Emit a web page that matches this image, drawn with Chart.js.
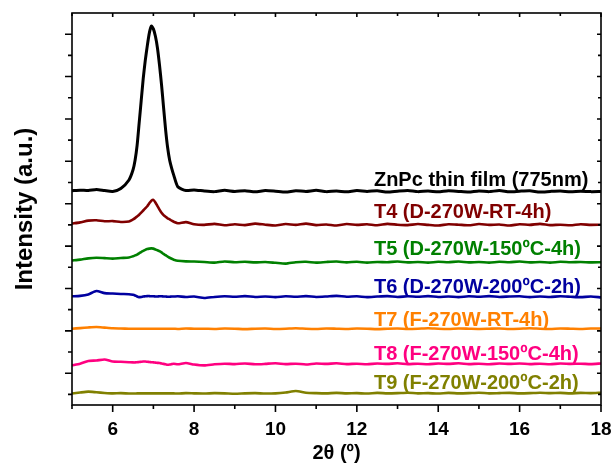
<!DOCTYPE html>
<html>
<head>
<meta charset="utf-8">
<script src="https://cdn.jsdelivr.net/npm/chart.js@4.4.0/dist/chart.umd.min.js"></script>
<style>
  html, body { margin: 0; padding: 0; background: #fff; }
  #wrap { width: 614px; height: 466px; }
</style>
</head>
<body>
<div id="wrap"><canvas id="grafico"></canvas></div>
<script>
// 2theta (graus)
var xs = [5.0, 5.2, 5.4, 5.6, 5.8, 6.0, 6.2, 6.4,
  6.5, 6.55, 6.6, 6.65, 6.7, 6.75, 6.8, 6.85, 6.9, 6.95, 7.0, 7.05, 7.1, 7.15, 7.2, 7.25, 7.3, 7.35, 7.4, 7.45, 7.5,
  7.6, 7.8, 8.0,
  8.25, 8.5, 8.75, 9.0, 9.25, 9.5, 9.75, 10.0, 10.25, 10.5, 10.75, 11.0, 11.25, 11.5, 11.75, 12.0, 12.25, 12.5, 12.75, 13.0,
  13.25, 13.5, 13.75, 14.0, 14.25, 14.5, 14.75, 15.0, 15.25, 15.5, 15.75, 16.0, 16.25, 16.5, 16.75, 17.0, 17.25, 17.5, 17.75, 18.0];

// intensidades (com offset, como no grafico)
var zncp = [961, 964, 962, 967, 962, 958, 972, 1012,
  1060, 1105, 1175, 1280, 1385, 1490, 1575, 1645, 1705, 1738, 1725, 1690, 1635, 1555, 1462, 1355, 1250, 1165, 1105, 1067, 1035,
  980, 962, 965,
  960, 957, 963, 958, 961, 956, 962, 959, 955, 961, 958, 963, 957, 960, 956, 962, 958, 961, 955, 959,
  962, 957, 960, 956, 961, 958, 955, 960, 957, 962, 956, 959, 961, 955, 958, 960, 956, 959, 957, 958];
var t4 = [806, 812, 820, 822, 817, 818, 814, 816,
  826, 832, 840, 848, 858, 868, 878, 888, 902, 914, 918, 906, 889, 872, 857, 846, 838, 831, 826, 820, 815,
  808, 813, 803,
  800, 805, 798, 803, 799, 806, 801, 797, 804, 800, 806, 799, 802, 797, 804, 800, 803, 798, 805, 801,
  799, 804, 800, 797, 803, 801, 798, 804, 800, 802, 797, 803, 800, 805, 799, 801, 798, 803, 800, 801];
var t5 = [632, 636, 642, 645, 643, 641, 644, 646,
  652, 656, 660, 666, 672, 677, 682, 686, 688, 689, 688, 684, 680, 676, 670, 663, 657, 650, 645, 640, 636,
  631, 628, 627,
  625, 622, 627, 624, 626, 623, 625, 621, 617, 624, 626, 622, 625, 627, 623, 626, 622, 625, 624, 627,
  623, 625, 622, 626, 624, 627, 623, 625, 622, 626, 624, 627, 623, 625, 622, 626, 624, 625, 623, 624];
var t6 = [463, 465, 472, 488, 478, 476, 474, 473,
  470, 467, 462, 459, 460, 462, 463, 464, 464, 463, 463, 462, 462, 463, 463, 462, 462, 461, 461, 462, 462,
  463, 460, 462,
  455, 460, 463, 461, 464, 460, 462, 459, 463, 461, 464, 460, 462, 465, 461, 463, 459, 462, 464, 460,
  463, 461, 464, 460, 462, 459, 463, 461, 464, 460, 462, 463, 459, 462, 460, 463, 461, 459, 462, 458];
var t7 = [310, 313, 316, 318, 315, 312, 311, 310,
  310, 310, 310, 310, 310, 310, 310, 310, 310, 310, 310, 310, 310, 310, 310, 310, 310, 310, 310, 310, 310,
  309, 311, 310,
  310, 309, 311, 310, 308, 310, 311, 309, 310, 312, 310, 309, 311, 310, 309, 311, 310, 308, 310, 311,
  309, 310, 312, 310, 309, 311, 310, 309, 310, 311, 309, 310, 312, 310, 309, 311, 310, 309, 311, 311];
var t8 = [137, 145, 158, 160, 165, 155, 154, 152,
  151, 151, 152, 153, 154, 155, 155, 154, 153, 152, 151, 150, 149, 148, 146, 144, 142, 140, 141, 143, 145,
  142, 148, 141,
  137, 142, 145, 143, 146, 142, 144, 147, 143, 145, 141, 146, 144, 147, 143, 145, 142, 146, 144, 147,
  143, 145, 142, 146, 144, 147, 143, 145, 142, 146, 144, 146, 143, 145, 142, 146, 144, 145, 143, 146];
var t9 = [4, 9, 13, 10, 7, 5, 6, 4,
  4, 4, 5, 5, 5, 5, 5, 5, 5, 5, 5, 5, 5, 5, 5, 5, 5, 5, 5, 5, 5,
  4, 6, 5,
  4, 6, 5, 3, 5, 6, 4, 5, 9, 16, 8, 6, 5, 7, 5, 6, 4, 7, 5, 6,
  8, 5, 6, 4, 7, 5, 6, 8, 5, 6, 7, 5, 6, 8, 6, 7, 5, 7, 6, 8];

var nomes = ['ZnPc thin film (775nm)', 'T4 (D-270W-RT-4h)', 'T5 (D-270W-150ºC-4h)', 'T6 (D-270W-200ºC-2h)',
  'T7 (F-270W-RT-4h)', 'T8 (F-270W-150ºC-4h)', 'T9 (F-270W-200ºC-2h)'];
var cores = ['#000000', '#800000', '#008000', '#0000A0', '#FF8000', '#FF0080', '#808000'];
var series = [zncp, t4, t5, t6, t7, t8, t9];

// posicao dos rotulos (em unidades do grafico)
var rotuloX = 12.42;
var rotuloY = [985, 833, 656, 478, 325, 163, 26];

var xTicks = [5, 6, 7, 8, 9, 10, 11, 12, 13, 14, 15, 16, 17, 18];
var yTicks = [0, 100, 200, 300, 400, 500, 600, 700, 800, 900, 1000, 1100, 1200, 1300, 1400, 1500, 1600, 1700];

function montarDados(ys) {
  return xs.map(function(x, i) { return { x: x, y: ys[i] }; });
}

// moldura, ticks (maiores e menores) e rotulos das curvas
var molduraPlugin = {
  id: 'moldura',
  afterDatasetsDraw: function(chart) {
    var ctx = chart.ctx;
    var a = chart.chartArea;
    var sx = chart.scales.x, sy = chart.scales.y;
    ctx.save();
    ctx.strokeStyle = '#000';
    ctx.lineWidth = 1.6;
    ctx.strokeRect(a.left, a.top, a.right - a.left, a.bottom - a.top);
    ctx.beginPath();
    xTicks.forEach(function(v) {
      var px = sx.getPixelForValue(v);
      var maior = v % 2 === 0;
      ctx.moveTo(px, a.bottom);
      ctx.lineTo(px, a.bottom + (maior ? 7 : 4));
      ctx.moveTo(px, a.top);
      ctx.lineTo(px, a.top + (maior ? 4 : 3));
    });
    yTicks.forEach(function(v) {
      var py = sy.getPixelForValue(v);
      var maior = (v / 100) % 2 === 1;
      ctx.moveTo(a.left, py);
      ctx.lineTo(a.left - (maior ? 7 : 4), py);
      ctx.moveTo(a.right, py);
      ctx.lineTo(a.right - (maior ? 4 : 3), py);
    });
    ctx.stroke();

    ctx.font = 'bold 20px "Liberation Sans", Arial, sans-serif';
    ctx.textAlign = 'left';
    ctx.textBaseline = 'alphabetic';
    nomes.forEach(function(n, i) {
      ctx.fillStyle = cores[i];
      ctx.fillText(n, sx.getPixelForValue(rotuloX), sy.getPixelForValue(rotuloY[i]));
    });
    ctx.restore();
  }
};

var ctx = document.getElementById('grafico');
new Chart(ctx, {
  type: 'line',
  data: {
    datasets: series.map(function(s, i) {
      return {
        label: nomes[i],
        data: montarDados(s),
        borderColor: cores[i],
        borderWidth: i === 0 ? 3 : 2.6,
        pointRadius: 0,
        tension: 0.2,
        fill: false
      };
    })
  },
  options: {
    responsive: true,
    maintainAspectRatio: false,
    animation: false,
    layout: { padding: { top: 13, right: 13, left: 0, bottom: 0 } },
    plugins: {
      legend: { display: false },
      tooltip: { enabled: false }
    },
    scales: {
      x: {
        type: 'linear',
        min: 5,
        max: 18,
        afterFit: function(scale) {
          scale.height = 61;
          scale.paddingLeft = 0;
          scale.paddingRight = 0;
        },
        grid: { display: false },
        border: { display: false },
        ticks: {
          stepSize: 1,
          padding: 5,
          color: '#000',
          font: { family: '"Liberation Sans", Arial, sans-serif', size: 19, weight: 'bold' },
          callback: function(v) { return v % 2 === 0 ? v : ''; }
        },
        title: {
          display: true,
          text: '2θ (º)',
          color: '#000',
          padding: { top: 0, bottom: 1 },
          font: { family: '"Liberation Sans", Arial, sans-serif', size: 20, weight: 'bold' }
        }
      },
      y: {
        min: -50,
        max: 1800,
        afterFit: function(scale) {
          scale.width = 72;
          scale.paddingTop = 0;
          scale.paddingBottom = 0;
        },
        grid: { display: false },
        border: { display: false },
        ticks: { display: false, stepSize: 100 },
        title: {
          display: true,
          text: 'Intensity (a.u.)',
          color: '#000',
          padding: { top: 11, bottom: 0 },
          font: { family: '"Liberation Sans", Arial, sans-serif', size: 24, weight: 'bold' }
        }
      }
    }
  },
  plugins: [molduraPlugin]
});
</script>
</body>
</html>
